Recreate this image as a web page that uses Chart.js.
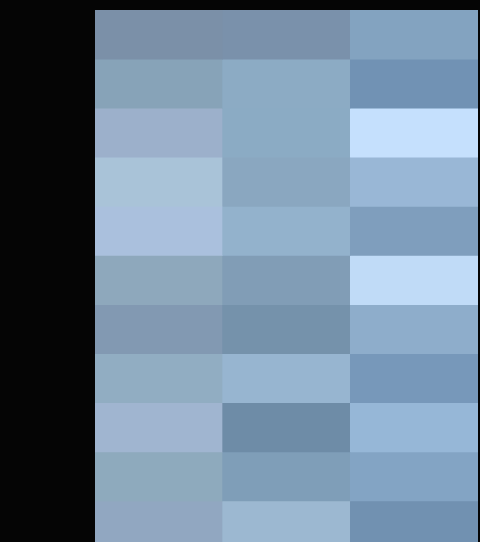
<!DOCTYPE html>
<html>
<head>
<meta charset="utf-8">
<script src="https://cdn.jsdelivr.net/npm/chart.js@4/dist/chart.umd.min.js"></script>
<style>
  html, body { margin: 0; padding: 0; background: #050505; overflow: hidden; }
  #wrap { width: 480px; height: 560px; }
</style>
</head>
<body>
<div id="wrap"><canvas id="c" width="480" height="560"></canvas></div>
<script>
const columns = ['A', 'B', 'C'];
const rows = ['1','2','3','4','5','6','7','8','9','10','11'];
// cell colours, top row first
const colA = ['#7b90a8','#87a3b8','#9cb0cb','#a9c3d8','#aac0dd','#8ea8bc','#8299b2','#91adc2','#a0b5d0','#8eaabd','#91a7c1'];
const colB = ['#7a91ab','#8cabc4','#8babc4','#8aa7c0','#93b2cc','#819db6','#7592ab','#97b5d0','#6e8ca7','#7f9eb8','#9cb8d1'];
const colC = ['#83a3c0','#7192b4','#c5e0fd','#99b7d6','#7f9ebd','#c0dbf7','#8eadcb','#7798ba','#96b7d7','#83a4c4','#7191b1'];
const cellValue = [1, 1, 1];

const datasets = rows.map((r, i) => ({
  label: r,
  data: cellValue.slice(),
  backgroundColor: [colA[i], colB[i], colC[i]],
  borderWidth: 0,
  barPercentage: 1,
  categoryPercentage: 1,
  stack: 's'
}));

new Chart(document.getElementById('c'), {
  type: 'bar',
  data: { labels: columns, datasets },
  options: {
    responsive: false,
    animation: false,
    layout: { padding: { left: 95, right: 2, top: 10, bottom: 10 } },
    plugins: { legend: { display: false }, tooltip: { enabled: false } },
    scales: {
      x: { display: false, stacked: true },
      y: { display: false, stacked: true, min: 0, max: rows.length, reverse: true }
    }
  }
});
</script>
</body>
</html>
